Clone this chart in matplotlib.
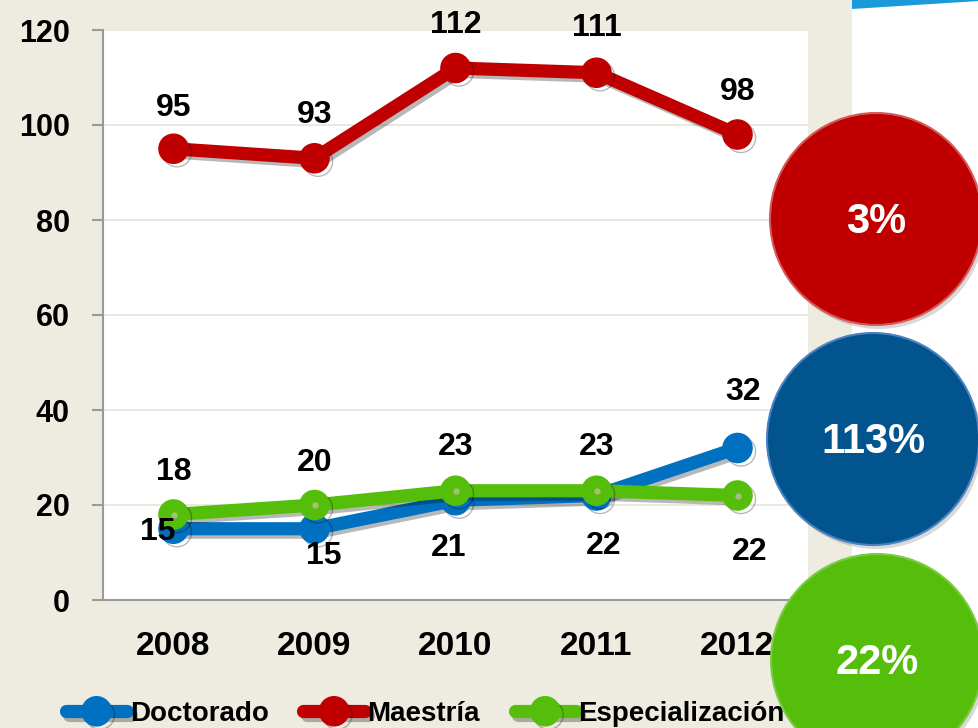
import matplotlib.pyplot as plt
import matplotlib.patheffects as pe
from matplotlib.patches import Circle, Rectangle, Polygon

plt.rcParams['font.family'] = ['Liberation Sans', 'DejaVu Sans']
plt.rcParams['font.weight'] = 'bold'

# data
years = ['2008', '2009', '2010', '2011', '2012']
doctorado = [15, 15, 21, 22, 32]
maestria = [95, 93, 112, 111, 98]
especializacion = [18, 20, 23, 23, 22]
series_names = ['Doctorado', 'Maestría', 'Especialización']
growth_labels = ['3%', '113%', '22%']

# colours
c_doc = '#0070C0'
c_mae = '#C00000'
c_esp = '#55BE0B'
bg = '#EEEBE1'

# label offsets in pixels (dx, dy up)
off_doc = [(-16, -3), (9, -27), (-7, -48), (7, -51), (6, 56)]
off_mae = [(0, 41), (0, 43), (0, 43), (0, 45), (0, 42)]
off_esp = [(0, 42), (0, 42), (0, 44), (0, 44), (12, -57)]

W, H = 979, 728
fig = plt.figure(figsize=(W / 100, H / 100), dpi=100, facecolor=bg)

# white right strip and blue corner band
fig.patches.append(Rectangle((852 / W, 0), 1, 1, transform=fig.transFigure,
                             facecolor='white', edgecolor='none', zorder=0))
fig.patches.append(Polygon([(852 / W, 1 - 9 / H), (852 / W, 1), (1, 1), (1, 1 - 1 / H)],
                           closed=True, transform=fig.transFigure,
                           facecolor='#1A9AD8', edgecolor='none', zorder=1))

ax = fig.add_axes([103 / W, 1 - 600 / H, (808 - 103) / W, (600 - 30) / H])
ax.set_facecolor('white')
x = list(range(len(years)))

shadow = [pe.SimpleLineShadow(offset=(2.5, -2.5), shadow_color='black', alpha=0.28),
          pe.Normal()]

lines = []
for vals, col in [(doctorado, c_doc), (maestria, c_mae), (especializacion, c_esp)]:
    ln, = ax.plot(x, vals, color=col, lw=9.5, marker='o', ms=21,
                  solid_capstyle='round', path_effects=shadow, zorder=3)
    lines.append(ln)
ax.plot(x, especializacion, ls='none', marker='o', ms=3.5, color='#A6BE7C', zorder=4)

def px2pt(v):
    return v * 72 / 100

for vals, offs in [(doctorado, off_doc), (maestria, off_mae), (especializacion, off_esp)]:
    for xi, v, (dx, dy) in zip(x, vals, offs):
        ax.annotate(str(v), (xi, v), xytext=(px2pt(dx), px2pt(dy)),
                    textcoords='offset points', ha='center', va='center',
                    fontsize=23, fontweight='bold', color='black', zorder=5)

ax.set_xlim(-0.5, 4.5)
ax.set_ylim(0, 120)
ax.set_yticks(range(0, 121, 20))
ax.set_xticks(x)
ax.set_xticklabels(years)
ax.grid(axis='y', color='#E8E4D8', lw=1.2)
ax.set_axisbelow(True)
for s in ['top', 'right']:
    ax.spines[s].set_visible(False)
for s in ['left', 'bottom']:
    ax.spines[s].set_color('#9A9A9A')
    ax.spines[s].set_linewidth(1.5)
ax.tick_params(axis='y', length=8, width=1.5, color='#9A9A9A', pad=16, labelsize=22)
ax.tick_params(axis='x', length=0, pad=22, labelsize=24)

# legend
fig.legend(lines, series_names, loc='center left', bbox_to_anchor=(66 / W, 1 - 714 / H),
           ncol=3, frameon=False, fontsize=20, handlelength=2.2, handletextpad=0.1,
           columnspacing=1.25, borderpad=0, borderaxespad=0, markerscale=1.0)

# overlay for circles
ov = fig.add_axes([0, 0, 1, 1], zorder=10)
ov.set_xlim(0, W)
ov.set_ylim(H, 0)
ov.axis('off')
circles = [((876, 219), '#C00000', '#D65A5A'),
           ((873, 439), '#02548F', '#4A82C0'),
           ((877, 660), '#55BE0B', '#7CCB45')]
for ((cx, cy), fc, ec), txt in zip(circles, growth_labels):
    ov.add_patch(Circle((cx + 3, cy + 4), 106, facecolor='black', alpha=0.15,
                        edgecolor='none'))
    ov.add_patch(Circle((cx, cy), 106, facecolor=fc, edgecolor=ec, lw=1.5))
    ov.text(cx, cy + 3, txt, color='white', fontsize=30, fontweight='bold',
            ha='center', va='center')

fig.savefig('out.png', dpi=100, facecolor=bg)
